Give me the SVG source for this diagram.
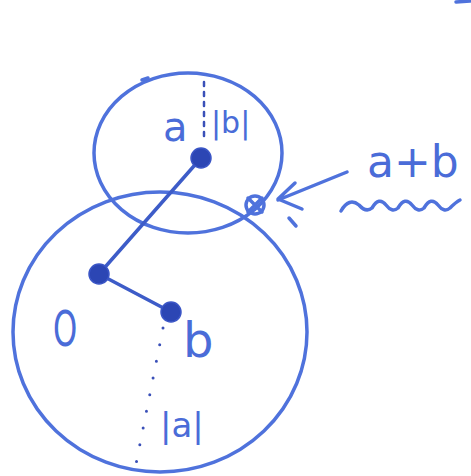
<svg xmlns="http://www.w3.org/2000/svg" width="471" height="476" viewBox="0 0 471 476">
<style>
.ln{fill:none;stroke:#4f72dc;stroke-width:3.5;stroke-linecap:round;stroke-linejoin:round}
.seg{fill:none;stroke:#3d5cc8;stroke-width:3.5;stroke-linecap:round}
.dot{fill:#2c46b4;stroke:#3a55c6;stroke-width:1.5}
.dash{fill:none;stroke:#3a50b8;stroke-width:2.5;stroke-dasharray:4 6;stroke-linecap:round}
.dots{fill:none;stroke:#3a50b8;stroke-width:3;stroke-dasharray:0 17;stroke-linecap:round}
.t{font-family:"DejaVu Sans","Liberation Sans",sans-serif;fill:#4a6cd8}
</style>
<rect width="471" height="476" fill="#ffffff"/>
<g id="circles">
<ellipse id="small-circle" class="ln" cx="188" cy="153" rx="94" ry="80"/>
<ellipse id="big-circle" class="ln" cx="160" cy="332" rx="147" ry="140"/>
</g>
<g id="connectors">
<line class="seg" x1="201" y1="158" x2="99" y2="274"/>
<line class="seg" x1="99" y1="274" x2="171" y2="312"/>
<line class="dash" x1="204" y1="82" x2="204" y2="142"/>
<polyline class="dots" points="163,328 136,464"/>
<path class="ln" d="M347,172 L278,200 M295,183 L278,199 L302,209"/>
<path class="ln" d="M289,218 L296,226"/>
<path class="ln" d="M142,80 L148,78"/>
<path class="ln" d="M456,2 L470,1"/>
</g>
<g id="node-a"><circle class="dot" cx="201" cy="158" r="10"/><text class="t" x="163" y="141" font-size="40">a</text></g>
<g id="label-b-abs"><text class="t" x="211" y="133" font-size="30">|b|</text></g>
<g id="node-O"><circle class="dot" cx="99" cy="274" r="10"/><text class="t" x="0" y="0" font-size="44" transform="translate(53,346) scale(0.7,1.15)">O</text></g>
<g id="node-b"><circle class="dot" cx="171" cy="312" r="10"/><text class="t" x="183" y="357" font-size="48">b</text></g>
<g id="label-a-abs"><text class="t" x="160" y="437" font-size="34">|a|</text></g>
<g id="node-sum">
<circle class="ln" cx="255" cy="205" r="9"/>
<path class="ln" d="M248,198 L262,212 M262,198 L248,212"/>
<text class="t" x="367" y="177" font-size="44">a+b</text>
<path class="ln" d="M341,211 q8,-14 18,-6 q7,8 13,3 q7,-12 14,-3 q6,8 12,3 q7,-12 14,-3 q6,8 12,3 q7,-12 14,-3 q6,8 12,3 q6,-6 10,-8"/>
</g>
</svg>
